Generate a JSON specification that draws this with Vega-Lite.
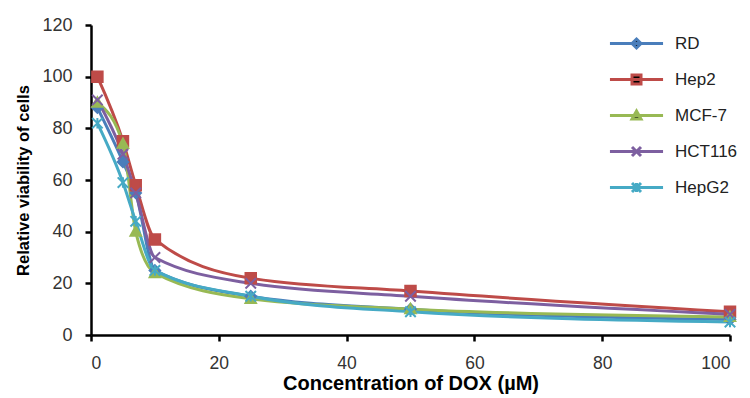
{
  "$schema": "https://vega.github.io/schema/vega-lite/v6.json",
  "width": 639,
  "height": 310,
  "autosize": "none",
  "padding": {"left": 91, "top": 25, "right": 20, "bottom": 63},
  "background": "white",
  "config": {
    "view": {"stroke": null},
    "font": "Liberation Sans",
    "axis": {"grid": false, "domainColor": "black", "domainWidth": 2.5, "tickColor": "black", "tickWidth": 2.5, "tickSize": 6, "labelFontSize": 18, "labelColor": "#333333", "labelFont": "Liberation Sans", "titleFont": "Liberation Sans", "titleFontWeight": "bold", "titleColor": "black"}
  },
  "resolve": {"scale": {"color": "independent", "shape": "independent"}},
  "data": {"values": [
    {"cell": "RD", "conc": 1, "viability": 88},
    {"cell": "RD", "conc": 5, "viability": 67},
    {"cell": "RD", "conc": 7, "viability": 55},
    {"cell": "RD", "conc": 10, "viability": 25},
    {"cell": "RD", "conc": 25, "viability": 15},
    {"cell": "RD", "conc": 50, "viability": 10},
    {"cell": "RD", "conc": 100, "viability": 6},
    {"cell": "Hep2", "conc": 1, "viability": 100},
    {"cell": "Hep2", "conc": 5, "viability": 75},
    {"cell": "Hep2", "conc": 7, "viability": 58},
    {"cell": "Hep2", "conc": 10, "viability": 37},
    {"cell": "Hep2", "conc": 25, "viability": 22},
    {"cell": "Hep2", "conc": 50, "viability": 17},
    {"cell": "Hep2", "conc": 100, "viability": 9},
    {"cell": "MCF-7", "conc": 1, "viability": 90},
    {"cell": "MCF-7", "conc": 5, "viability": 74},
    {"cell": "MCF-7", "conc": 7, "viability": 40},
    {"cell": "MCF-7", "conc": 10, "viability": 24},
    {"cell": "MCF-7", "conc": 25, "viability": 14},
    {"cell": "MCF-7", "conc": 50, "viability": 10},
    {"cell": "MCF-7", "conc": 100, "viability": 7},
    {"cell": "HCT116", "conc": 1, "viability": 91},
    {"cell": "HCT116", "conc": 5, "viability": 70},
    {"cell": "HCT116", "conc": 7, "viability": 55},
    {"cell": "HCT116", "conc": 10, "viability": 30},
    {"cell": "HCT116", "conc": 25, "viability": 20},
    {"cell": "HCT116", "conc": 50, "viability": 15},
    {"cell": "HCT116", "conc": 100, "viability": 8},
    {"cell": "HepG2", "conc": 1, "viability": 82},
    {"cell": "HepG2", "conc": 5, "viability": 59},
    {"cell": "HepG2", "conc": 7, "viability": 44},
    {"cell": "HepG2", "conc": 10, "viability": 25},
    {"cell": "HepG2", "conc": 25, "viability": 15},
    {"cell": "HepG2", "conc": 50, "viability": 9},
    {"cell": "HepG2", "conc": 100, "viability": 5}
  ]},
  "encoding": {
    "x": {"field": "conc", "type": "quantitative", "title": "Concentration of DOX (µM)", "scale": {"domain": [0, 100], "nice": false}, "axis": {"values": [0, 20, 40, 60, 80, 100], "labelPadding": 13, "titlePadding": 2, "titleFontSize": 20, "labelFontSize": 17.5}},
    "y": {"field": "viability", "type": "quantitative", "title": "Relative viability  of cells", "scale": {"domain": [0, 120], "nice": false}, "axis": {"values": [0, 20, 40, 60, 80, 100, 120], "labelPadding": 13, "titlePadding": 10, "titleFontSize": 16.5}}
  },
  "layer": [
    {
      "mark": {"type": "line", "interpolate": "monotone", "strokeWidth": 3},
      "encoding": {
        "color": {"field": "cell", "type": "nominal", "scale": {"domain": ["RD", "Hep2", "MCF-7", "HCT116", "HepG2"], "range": ["#4A7EBB", "#BE4B48", "#98B954", "#7D5FA0", "#46AAC5"]}, "legend": null},
        "detail": {"field": "cell"}
      }
    },
    {
      "mark": {"type": "point", "filled": true, "opacity": 1, "size": 110, "strokeWidth": 2},
      "encoding": {
        "color": {"field": "cell", "type": "nominal", "scale": {"domain": ["RD", "Hep2", "MCF-7", "HCT116", "HepG2"], "range": ["#4A7EBB", "#BE4B48", "#98B954", "#7D5FA0", "#46AAC5"]}, "legend": null},
        "shape": {"field": "cell", "type": "nominal", "scale": {"domain": ["RD", "Hep2", "MCF-7", "HCT116", "HepG2"], "range": ["M0,-1L1,0L0,1L-1,0Z", "M-1,-1L1,-1L1,1L-1,1Z", "M0,-1L1,0.8L-1,0.8Z", "M-1,-1L1,1M-1,1L1,-1", "M-1,-1L1,1M-1,1L1,-1M0,-1L0,1"]}, "legend": null},
        "stroke": {"field": "cell", "type": "nominal", "scale": {"domain": ["RD", "Hep2", "MCF-7", "HCT116", "HepG2"], "range": ["#4A7EBB", "#BE4B48", "#98B954", "#7D5FA0", "#46AAC5"]}, "legend": null}
      }
    },
    {
      "mark": {"type": "point", "filled": false, "opacity": 0, "size": 81, "strokeWidth": 3},
      "encoding": {
        "color": {"field": "cell", "type": "nominal", "scale": {"domain": ["RD", "Hep2", "MCF-7", "HCT116", "HepG2"], "range": ["#4A7EBB", "#BE4B48", "#98B954", "#7D5FA0", "#46AAC5"]},
          "legend": {"title": null, "orient": "none", "legendX": 537, "legendY": 10, "labelFontSize": 17, "labelColor": "#222222", "labelFont": "Liberation Sans", "symbolSize": 81, "symbolOpacity": 1, "symbolStrokeWidth": 3, "labelOffset": 30, "rowPadding": 15}},
        "fill": {"field": "cell", "type": "nominal", "scale": {"domain": ["RD", "Hep2", "MCF-7", "HCT116", "HepG2"], "range": ["#4A7EBB", "#BE4B48", "#98B954", "#7D5FA0", "#46AAC5"]},
          "legend": {"title": null, "orient": "none", "legendX": 537, "legendY": 10, "labelFontSize": 17, "labelColor": "#222222", "labelFont": "Liberation Sans", "symbolSize": 81, "symbolOpacity": 1, "symbolStrokeWidth": 3, "labelOffset": 30, "rowPadding": 15}},
        "shape": {"field": "cell", "type": "nominal", "scale": {"domain": ["RD", "Hep2", "MCF-7", "HCT116", "HepG2"], "range": ["M-5.9,0L5.9,0M0,-1L1,0L0,1L-1,0Z", "M-5.9,0L5.9,0M-1,-1L1,-1L1,1L-1,1Z", "M-5.9,0L5.9,0M0,-1L1,0.8L-1,0.8Z", "M-5.9,0L5.9,0M-1,-1L1,1M-1,1L1,-1", "M-5.9,0L5.9,0M-1,-1L1,1M-1,1L1,-1M0,-1L0,1"]},
          "legend": {"title": null, "orient": "none", "legendX": 537, "legendY": 10, "labelFontSize": 17, "labelColor": "#222222", "labelFont": "Liberation Sans", "symbolSize": 81, "symbolOpacity": 1, "symbolStrokeWidth": 3, "labelOffset": 30, "rowPadding": 15}}
      }
    }
  ]
}
